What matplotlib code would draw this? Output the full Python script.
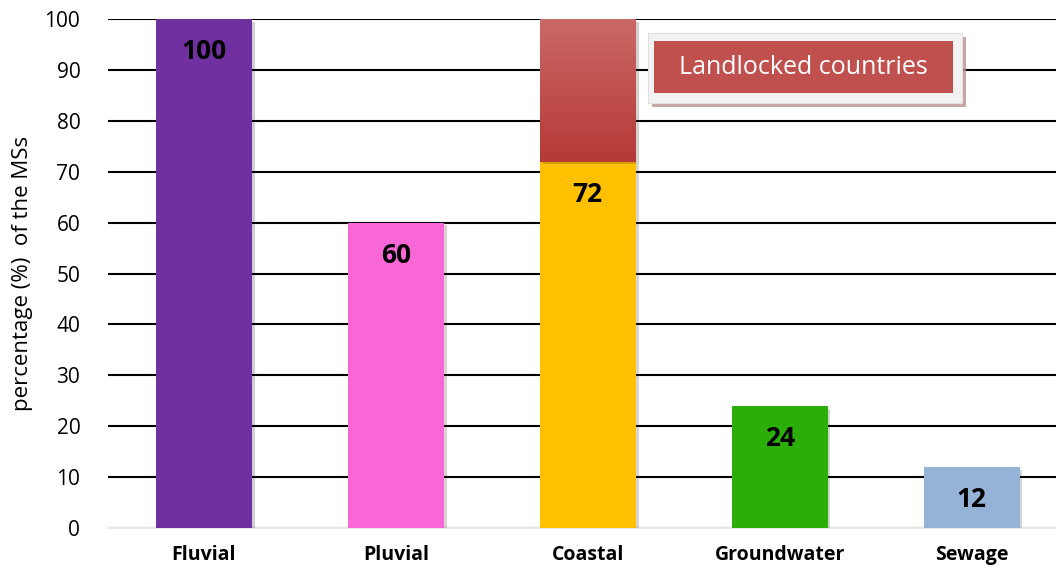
import matplotlib.pyplot as plt
import matplotlib.patheffects as pe
from matplotlib.patches import Rectangle
from matplotlib.colors import LinearSegmentedColormap
import numpy as np

plt.rcParams['font.family'] = ['Open Sans', 'DejaVu Sans']

categories = ["Fluvial", "Pluvial", "Coastal", "Groundwater", "Sewage"]
values = [100, 60, 72, 24, 12]
landlocked = [0, 0, 28, 0, 0]
colors = ["#7030A0", "#F966D6", "#FFC000", "#2CAE0A", "#95B3D7"]

fig = plt.figure(figsize=(10.56, 5.71), dpi=100)
ax = fig.add_axes([0.1023, 0.0753, 0.8977, 0.8914])

x = np.arange(len(categories))
shadow = [pe.SimplePatchShadow(offset=(2, -2), alpha=0.2), pe.Normal()]
bars = ax.bar(x, values, width=0.5, color=colors, zorder=3)
for b in bars:
    b.set_path_effects(shadow)

# landlocked part, gradient red
top = ax.bar(x, landlocked, bottom=values, width=0.5, color="#C0504D", zorder=3)
cm = LinearSegmentedColormap.from_list("r", ["#B53A37", "#C0504D", "#C96A67"])
for i, b in enumerate(top):
    if landlocked[i] == 0:
        continue
    b.set_path_effects(shadow)
    grad = np.linspace(0, 1, 100).reshape(-1, 1)
    im = ax.imshow(grad, cmap=cm, aspect="auto", origin="lower", zorder=4,
                   extent=[b.get_x(), b.get_x() + b.get_width(),
                           values[i], values[i] + landlocked[i]])
    im.set_clip_path(b)

for i, v in enumerate(values):
    ax.text(x[i], v - 6.4, str(v), ha="center", va="center", fontsize=19,
            fontweight="bold", zorder=5)

ax.set_xlim(-0.5, 4.44)
ax.set_ylim(0, 100)
ax.set_yticks(range(0, 101, 10))
ax.set_xticks(x)
ax.set_xticklabels(categories, fontsize=14, fontweight="bold")
ax.tick_params(axis="y", labelsize=15, length=0, pad=20)
ax.tick_params(axis="x", length=0, pad=12)
ax.yaxis.grid(True, color="black", linewidth=1.5, zorder=0)
ax.set_axisbelow(True)
for s in ["top", "right", "left"]:
    ax.spines[s].set_visible(False)
ax.spines["bottom"].set_color("#E8E8E8")
ax.spines["bottom"].set_linewidth(1.5)
ax.set_ylabel("percentage (%)  of the MSs", fontsize=16)
ax.yaxis.set_label_coords(-0.079, 0.5)

# legend box
outer = Rectangle((0.5696, 0.835), 0.3312, 0.1375, transform=ax.transAxes,
                  facecolor="#F2F2F2", edgecolor="#E0E0E0", linewidth=0.8, zorder=6)
outer.set_path_effects([pe.SimplePatchShadow(offset=(3, -3), shadow_rgbFace="#B89090", alpha=0.8), pe.Normal()])
ax.add_patch(outer)
inner = Rectangle((0.576, 0.8546), 0.3153, 0.1022, transform=ax.transAxes,
                  facecolor="#C0504D", edgecolor="none", zorder=7)
ax.add_patch(inner)
ax.text(0.7336, 0.9057, "Landlocked countries", transform=ax.transAxes,
        ha="center", va="center", fontsize=18, color="white", zorder=8)

fig.savefig("out.png", dpi=100)
